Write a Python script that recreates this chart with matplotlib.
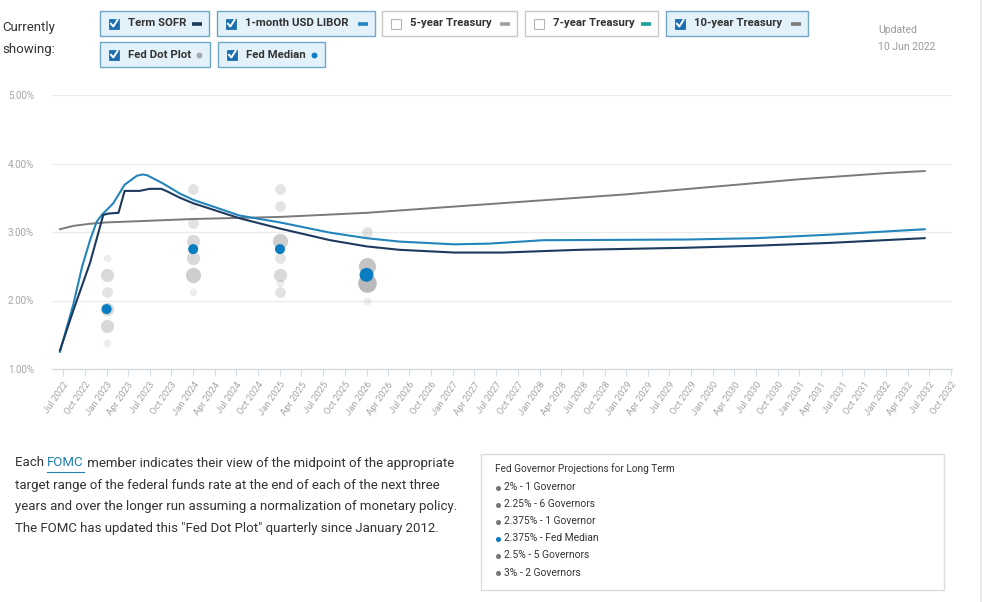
#!/usr/bin/env python3
"""Forward curves (Term SOFR, 1-month LIBOR, 10-year Treasury) with the Fed dot plot."""

import matplotlib

matplotlib.use("Agg")
import matplotlib.dates as mdates
import matplotlib.pyplot as plt
import pandas as pd
from matplotlib.patches import Rectangle

plt.rcParams["font.family"] = ["Roboto", "DejaVu Sans"]

W, H = 1000, 602

# forward curves
SOFR_DATES = [
    "2022-06-18", "2022-08-14", "2022-10-23", "2022-12-18", "2023-01-10",
    "2023-02-20", "2023-03-18", "2023-05-20", "2023-07-01", "2023-08-20",
    "2023-09-15", "2023-11-06", "2024-01-01", "2024-07-15", "2025-01-01",
    "2025-08-01", "2026-01-01", "2026-05-20", "2027-01-06", "2027-08-01",
    "2028-06-15", "2029-09-10", "2030-07-03", "2031-05-03", "2032-06-12",
]
SOFR_RATES = [
    1.27, 1.86, 2.55, 3.25, 3.27,
    3.28, 3.60, 3.60, 3.63, 3.63,
    3.59, 3.50, 3.42, 3.20, 3.05,
    2.88, 2.79, 2.74, 2.70, 2.70,
    2.74, 2.77, 2.80, 2.84, 2.91,
]

LIBOR_DATES = [
    "2022-06-18", "2022-08-14", "2022-09-20", "2022-10-23", "2022-11-20",
    "2022-12-12", "2023-01-29", "2023-03-18", "2023-05-08", "2023-06-01",
    "2023-06-20", "2023-08-26", "2023-11-06", "2024-01-01", "2024-07-15",
    "2025-01-01", "2025-08-01", "2026-01-01", "2026-05-20", "2027-01-06",
    "2027-06-01", "2028-01-15", "2029-09-10", "2030-07-03", "2031-05-03",
    "2032-06-12",
]
LIBOR_RATES = [
    1.25, 1.95, 2.50, 2.88, 3.15,
    3.25, 3.42, 3.69, 3.82, 3.84,
    3.83, 3.71, 3.56, 3.47, 3.24,
    3.14, 2.99, 2.91, 2.86, 2.82,
    2.83, 2.88, 2.89, 2.91, 2.96,
    3.04,
]

T10_DATES = [
    "2022-06-18", "2022-08-14", "2022-10-23", "2023-01-01", "2023-06-01",
    "2024-01-01", "2025-01-01", "2026-01-01", "2027-01-01", "2028-01-01",
    "2029-01-01", "2030-01-01", "2031-01-01", "2032-01-01", "2032-06-12",
]
T10_RATES = [
    3.04, 3.09, 3.12, 3.14, 3.16,
    3.19, 3.22, 3.28, 3.37, 3.46,
    3.55, 3.66, 3.77, 3.86, 3.89,
]

# Fed dot plot: one column per projection horizon
DOT_DATES = ["2023-01-01", "2024-01-01", "2025-01-01", "2026-01-01"]
DOT_RATES = [
    [2.625, 2.375, 2.125, 1.875, 1.625, 1.375],
    [3.625, 3.375, 3.125, 2.875, 2.625, 2.375, 2.125],
    [3.625, 3.375, 2.875, 2.625, 2.375, 2.25, 2.125],
    [3.0, 2.5, 2.375, 2.25, 2.0],
]
DOT_COUNTS = [
    [1, 3, 2, 3, 3, 1],
    [2, 1, 2, 3, 3, 4, 1],
    [2, 2, 4, 2, 3, 1, 2],
    [2, 5, 1, 6, 1],
]
MEDIAN_RATES = [1.875, 2.75, 2.75, 2.375]

Y_TICKS = [1.0, 2.0, 3.0, 4.0, 5.0]

BUTTON_LABELS = [
    "Term SOFR", "1-month USD LIBOR", "5-year Treasury", "7-year Treasury",
    "10-year Treasury", "Fed Dot Plot", "Fed Median",
]
BUTTON_CHECKED = [True, True, False, False, True, True, True]

LONG_TERM_TITLE = "Fed Governor Projections for Long Term"
LONG_TERM_ITEMS = [
    "2% - 1 Governor", "2.25% - 6 Governors", "2.375% - 1 Governor",
    "2.375% - Fed Median", "2.5% - 5 Governors", "3% - 2 Governors",
]

COLOR_SOFR = "#1c3a5e"
COLOR_LIBOR = "#2385bb"
COLOR_T10 = "#7a7a7a"
COLOR_T5 = "#a0a0a0"
COLOR_T7 = "#1aa39a"
COLOR_DOT = "#8c8c8c"
COLOR_MEDIAN = "#0a7cc1"
COLOR_LINK = "#1f7fb0"
COLOR_TEXT = "#333333"
COLOR_MUTED = "#9a9a9a"
PARA_SIZE = 9.5


def fig_rect(left, top, right, bottom):
    return [left / W, 1 - bottom / H, (right - left) / W, (bottom - top) / H]


fig = plt.figure(figsize=(W / 100, H / 100), dpi=100)
renderer = fig.canvas.get_renderer()
page = fig.add_axes([0, 0, 1, 1], zorder=0)
page.set_xlim(0, W)
page.set_ylim(H, 0)
page.axis("off")


def text_right_edge(artist):
    bbox = artist.get_window_extent(renderer=renderer)
    return page.transData.inverted().transform((bbox.x1, bbox.y0))[0]


# page border on the right
page.plot([981, 981], [0, H], color="#e4e4e4", lw=1.2)

# header
page.text(2, 28, "Currently", fontsize=9.5, color=COLOR_TEXT, va="center")
page.text(2, 49, "showing:", fontsize=9.5, color=COLOR_TEXT, va="center")
page.text(878, 30, "Updated", fontsize=7.5, color=COLOR_MUTED, va="center")
page.text(878, 47, "10 Jun 2022", fontsize=7.5, color=COLOR_MUTED, va="center")

button_boxes = [
    (100, 209, 0, "line", COLOR_SOFR),
    (217, 375, 0, "line", COLOR_LIBOR),
    (382, 517, 0, "line", COLOR_T5),
    (525, 658, 0, "line", COLOR_T7),
    (666, 808, 0, "line", COLOR_T10),
    (100, 210, 1, "dot", "#a8a8a8"),
    (218, 325, 1, "dot", COLOR_MEDIAN),
]
for label, checked, (x0, x1, row, kind, swatch) in zip(
    BUTTON_LABELS, BUTTON_CHECKED, button_boxes
):
    y0 = 11 if row == 0 else 42
    y1 = y0 + 25
    yc = (y0 + y1) / 2
    page.add_patch(
        Rectangle(
            (x0, y0), x1 - x0, y1 - y0,
            facecolor="#e2f1fa" if checked else "white",
            edgecolor="#6fa7c4" if checked else "#c8c8c8",
            lw=1.0,
        )
    )
    cx = x0 + 9
    if checked:
        page.add_patch(Rectangle((cx, yc - 5), 10, 10, facecolor="#1b6fb0", edgecolor="#1b6fb0", lw=0.6))
        page.plot([cx + 2, cx + 4.3, cx + 8.5], [yc + 0.3, yc + 3, yc - 3.5], color="white", lw=1.4)
    else:
        page.add_patch(Rectangle((cx, yc - 5), 10, 10, facecolor="white", edgecolor="#b5b5b5", lw=0.8))
    page.text(x0 + 28, yc, label, fontsize=8.2, fontweight="bold", color=COLOR_TEXT, va="center")
    if kind == "line":
        page.plot([x1 - 17, x1 - 7], [yc, yc], color=swatch, lw=2.6, solid_capstyle="butt")
    else:
        page.plot([x1 - 11], [yc], "o", color=swatch, ms=3.2)

# chart
ax = fig.add_axes(fig_rect(52, 95, 952, 369), zorder=1)
ax.set_facecolor("none")

for dot_date, rates, counts in zip(DOT_DATES, DOT_RATES, DOT_COUNTS):
    xd = pd.Timestamp(dot_date)
    for rate, count in zip(rates, counts):
        ax.scatter(
            [xd], [rate], s=30 * count, color=COLOR_DOT,
            alpha=min(0.15 + 0.09 * (count - 1), 0.65), linewidths=0, zorder=2,
        )
median_sizes = [52, 52, 52, 100]
ax.scatter(
    pd.to_datetime(DOT_DATES), MEDIAN_RATES, s=median_sizes,
    color=COLOR_MEDIAN, linewidths=0, zorder=5,
)

ax.plot(pd.to_datetime(T10_DATES), T10_RATES, color=COLOR_T10, lw=1.4, zorder=3)
ax.plot(pd.to_datetime(LIBOR_DATES), LIBOR_RATES, color=COLOR_LIBOR, lw=1.5, zorder=4)
ax.plot(pd.to_datetime(SOFR_DATES), SOFR_RATES, color=COLOR_SOFR, lw=1.5, zorder=4)

tick_dates = pd.date_range("2022-07-01", "2032-10-01", freq="QS")
d0 = mdates.date2num(tick_dates[0])
d1 = mdates.date2num(tick_dates[-1])
px_per_day = (951 - 63) / (d1 - d0)
ax.set_xlim(d0 - 11 / px_per_day, d1 + 1 / px_per_day)
ax.set_xticks(tick_dates)
ax.set_xticklabels(
    [d.strftime("%b %Y") for d in tick_dates],
    rotation=55, ha="right", va="top", rotation_mode="anchor",
    fontsize=6.8, color="#a5a5a5",
)
ax.tick_params(axis="x", length=5, width=0.8, color="#d5dde3", pad=3)

ax.set_ylim(1.0, 5.0)
ax.set_yticks(Y_TICKS)
ax.set_yticklabels([f"{v:.2f}%" for v in Y_TICKS], fontsize=7, color="#a5a5a5")
ax.tick_params(axis="y", length=0, pad=13)
ax.grid(axis="y", color="#ebebeb", lw=1.0)
ax.set_axisbelow(True)
for side in ("top", "right", "left"):
    ax.spines[side].set_visible(False)
ax.spines["bottom"].set_color("#d5dde3")
ax.spines["bottom"].set_linewidth(1.0)

# explanatory paragraph, first line with the underlined FOMC link
para_lines = [
    "target range of the federal funds rate at the end of each of the next three",
    "years and over the longer run assuming a normalization of monetary policy.",
    'The FOMC has updated this "Fed Dot Plot" quarterly since January 2012.',
]
x_cur = 15
for piece, color in (("Each ", COLOR_TEXT), ("FOMC", COLOR_LINK),
                     (" member indicates their view of the midpoint of the appropriate", COLOR_TEXT)):
    t = page.text(x_cur, 463, piece, fontsize=PARA_SIZE, color=color, va="center")
    x_end = text_right_edge(t)
    if piece == "FOMC":
        page.plot([x_cur, x_end], [472, 472], color=COLOR_LINK, lw=0.8)
    x_cur = x_end
for i, line in enumerate(para_lines):
    page.text(15, 485 + 21.7 * i, line, fontsize=PARA_SIZE, color=COLOR_TEXT, va="center")

# long-term projection box
page.add_patch(Rectangle((481, 454), 463, 136, facecolor="white", edgecolor="#dcdcdc", lw=1.0))
page.text(495, 469, LONG_TERM_TITLE, fontsize=7.2, color=COLOR_TEXT, va="center")
for i, item in enumerate(LONG_TERM_ITEMS):
    yi = 487 + 17.1 * i
    bullet = COLOR_MEDIAN if "Median" in item else "#777777"
    page.plot([497.5], [yi + 0.5], "o", color=bullet, ms=2.6)
    page.text(504, yi, item, fontsize=7.4, color=COLOR_TEXT, va="center")

fig.savefig("out.png", dpi=100)
plt.close(fig)
